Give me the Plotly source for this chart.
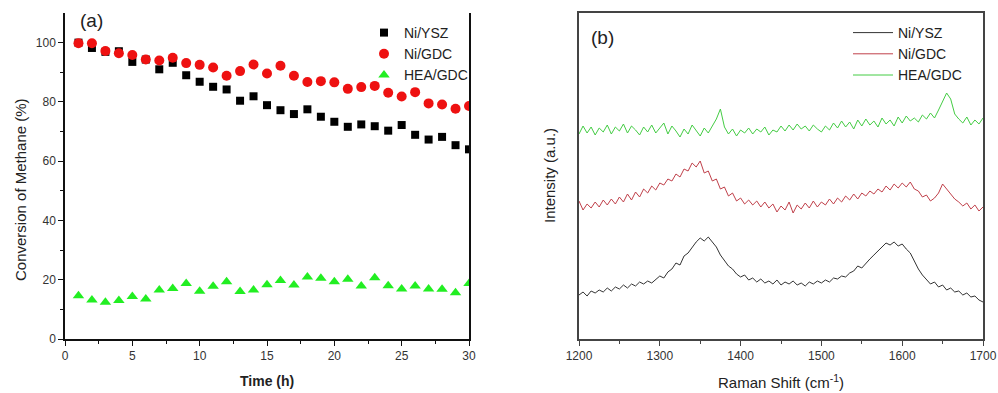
import plotly.graph_objects as go

# ---------------- Panel (a) data ----------------
time_h = list(range(1, 31))
ni_ysz_conv = [100, 98.2, 96.9, 97.1, 93.5, 94.3, 91.0, 93.2, 89.0, 86.8,
               85.1, 84.2, 80.4, 81.9, 78.9, 77.2, 75.9, 77.5, 75.0, 73.3,
               71.6, 72.4, 71.8, 70.3, 72.2, 68.9, 67.3, 68.2, 65.4, 64.0]
ni_gdc_conv = [99.8, 99.8, 97.2, 96.4, 95.8, 94.3, 94.0, 94.9, 93.1, 92.5,
               91.6, 88.8, 90.4, 92.6, 89.6, 92.2, 88.8, 86.7, 87.0, 86.6,
               84.4, 85.0, 85.4, 83.1, 81.8, 83.3, 79.5, 79.1, 77.7, 78.6]
hea_gdc_conv = [14.6, 13.2, 12.4, 13.0, 14.3, 13.5, 16.5, 17.0, 18.7, 16.1,
                17.8, 19.3, 16.0, 16.5, 18.3, 19.7, 18.2, 20.9, 20.5, 19.3,
                20.2, 17.9, 20.7, 18.0, 16.9, 17.9, 16.9, 16.8, 15.6, 18.7]

# ---------------- Panel (b) data ----------------
raman_shift = list(range(1200, 1701, 5))
ni_ysz_int = [44, 47, 43, 48, 46, 49, 47, 51, 48, 52, 50, 54, 51, 55, 53, 57, 55, 58, 56, 60,
              63, 61, 67, 70, 76, 74, 83, 86, 92, 97, 101, 98, 102, 97, 92, 84, 78, 73, 70, 65,
              62, 64, 59, 61, 57, 60, 56, 58, 55, 59, 54, 57, 55, 58, 54, 56, 53, 57, 55, 58,
              56, 59, 57, 61, 60, 63, 62, 66, 68, 73, 71, 76, 80, 84, 88, 92, 96, 94, 97, 93,
              95, 90, 86, 78, 70, 64, 59, 55, 57, 52, 54, 49, 51, 47, 48, 44, 46, 42, 43, 39, 37]
ni_gdc_int = [138, 129, 135, 131, 137, 132, 139, 134, 140, 135, 142, 137, 145, 139, 147, 142, 150, 146, 153, 149,
              156, 154, 160, 158, 165, 162, 170, 168, 176, 172, 178, 166, 168, 158, 160, 150, 152, 143, 146, 138,
              141, 135, 139, 134, 138, 132, 137, 131, 135, 127, 133, 129, 137, 126, 134, 130, 136, 131, 138, 132,
              137, 134, 140, 135, 141, 137, 143, 139, 145, 140, 146, 143, 148, 145, 150, 147, 153, 149, 155, 151,
              156, 152, 157, 150, 148, 142, 144, 138, 141, 146, 155, 150, 144, 140, 137, 133, 136, 130, 134, 128, 132]
hea_gdc_int = [205, 213, 206, 212, 204, 211, 207, 214, 205, 212, 208, 215, 206, 213, 209, 204, 212, 207, 214, 206,
               211, 216, 205, 213, 208, 202, 210, 205, 214, 209, 203, 211, 206, 213, 220, 230, 212, 205, 210, 203,
               209, 206, 211, 205, 210, 207, 212, 204, 209, 207, 213, 208, 214, 209, 215, 210, 213, 208, 214, 210,
               207, 213, 209, 216, 211, 218, 212, 217, 210, 219, 213, 220, 214, 218, 212, 221, 215, 219, 213, 222,
               216, 223, 218, 221, 217, 224, 220, 226, 221, 229, 238, 246, 240, 225, 220, 216, 222, 214, 219, 215, 221]

FONT = "Liberation Sans, Arial, sans-serif"

fig = go.Figure()

fig.add_trace(go.Scatter(x=time_h, y=ni_ysz_conv, mode="markers", name="Ni/YSZ",
                         marker=dict(symbol="square", size=8, color="#000000"),
                         xaxis="x", yaxis="y", legend="legend"))
fig.add_trace(go.Scatter(x=time_h, y=ni_gdc_conv, mode="markers", name="Ni/GDC",
                         marker=dict(symbol="circle", size=10, color="#ee1111"),
                         xaxis="x", yaxis="y", legend="legend"))
fig.add_trace(go.Scatter(x=time_h, y=hea_gdc_conv, mode="markers", name="HEA/GDC",
                         marker=dict(symbol="triangle-up", size=10, color="#22ee22"),
                         xaxis="x", yaxis="y", legend="legend"))

fig.add_trace(go.Scatter(x=raman_shift, y=ni_ysz_int, mode="lines", name="Ni/YSZ",
                         line=dict(color="#333333", width=1),
                         xaxis="x2", yaxis="y2", legend="legend2"))
fig.add_trace(go.Scatter(x=raman_shift, y=ni_gdc_int, mode="lines", name="Ni/GDC",
                         line=dict(color="#c0404a", width=1),
                         xaxis="x2", yaxis="y2", legend="legend2"))
fig.add_trace(go.Scatter(x=raman_shift, y=hea_gdc_int, mode="lines", name="HEA/GDC",
                         line=dict(color="#44cc44", width=1),
                         xaxis="x2", yaxis="y2", legend="legend2"))

ydom = [1 - 339 / 393, 1 - 13 / 393]
tickfont = dict(family=FONT, size=12, color="#333333")

fig.update_layout(
    width=998, height=393,
    margin=dict(l=0, r=0, t=0, b=0, pad=0, autoexpand=False),
    paper_bgcolor="white", plot_bgcolor="white",
    font=dict(family=FONT, color="#222222"),
    xaxis=dict(domain=[65 / 998, 469 / 998], range=[0, 30], tickvals=[0, 5, 10, 15, 20, 25, 30],
               ticks="outside", ticklen=5, tickwidth=1.2, tickcolor="#111", automargin=False,
               minor=dict(tickvals=[2.5, 7.5, 12.5, 17.5, 22.5, 27.5], ticks="outside", ticklen=3,
                          tickcolor="#111"),
               showline=True, linecolor="#111", linewidth=1.5, mirror=False,
               showgrid=False, zeroline=False, tickfont=tickfont),
    yaxis=dict(domain=ydom, range=[0, 110], tickvals=[0, 20, 40, 60, 80, 100],
               ticks="outside", ticklen=5, tickwidth=1.2, tickcolor="#111", automargin=False,
               minor=dict(tickvals=[10, 30, 50, 70, 90], ticks="outside", ticklen=3, tickcolor="#111"),
               showline=True, linecolor="#111", linewidth=1.5, mirror=True,
               showgrid=False, zeroline=False, tickfont=tickfont),
    xaxis2=dict(domain=[579 / 998, 983 / 998], range=[1200, 1700],
                tickvals=[1200, 1300, 1400, 1500, 1600, 1700], automargin=False,
                ticks="outside", ticklen=5, tickwidth=1.2, tickcolor="#444",
                minor=dict(tickvals=[1250, 1350, 1450, 1550, 1650], ticks="outside", ticklen=3,
                           tickcolor="#444"),
                showline=True, linecolor="#444", linewidth=1.5, mirror=True,
                showgrid=False, zeroline=False, tickfont=tickfont, anchor="y2"),
    yaxis2=dict(domain=ydom, range=[0, 326], showticklabels=False, ticks="", automargin=False,
                showline=True, linecolor="#444", linewidth=1.5, mirror=True,
                showgrid=False, zeroline=False, anchor="x2"),
    legend=dict(x=364 / 998, y=1 - 17 / 393, xanchor="left", yanchor="top",
                bgcolor="rgba(0,0,0,0)", font=dict(family=FONT, size=14, color="#222"),
                tracegroupgap=0, itemwidth=30),
    legend2=dict(x=848 / 998, y=1 - 17 / 393, xanchor="left", yanchor="top",
                 bgcolor="rgba(0,0,0,0)", font=dict(family=FONT, size=14, color="#222"),
                 tracegroupgap=0, itemwidth=40),
    showlegend=True,
    annotations=[
        dict(text="(a)", x=78 / 998, y=1 - 21 / 393, xref="paper", yref="paper",
             xanchor="left", yanchor="middle", showarrow=False,
             font=dict(family=FONT, size=19, color="#222")),
        dict(text="(b)", x=589 / 998, y=1 - 37 / 393, xref="paper", yref="paper",
             xanchor="left", yanchor="middle", showarrow=False,
             font=dict(family=FONT, size=19, color="#222")),
        dict(text="Conversion of Methane (%)", x=20 / 998, y=1 - 190 / 393, xref="paper", yref="paper",
             xanchor="center", yanchor="middle", showarrow=False, textangle=-90,
             font=dict(family=FONT, size=15, color="#222")),
        dict(text="<b>Time (h)</b>", x=267 / 998, y=1 - 381 / 393, xref="paper", yref="paper",
             xanchor="center", yanchor="middle", showarrow=False,
             font=dict(family=FONT, size=14, color="#222")),
        dict(text="Raman Shift (cm<sup>-1</sup>)", x=781 / 998, y=1 - 381 / 393, xref="paper", yref="paper",
             xanchor="center", yanchor="middle", showarrow=False,
             font=dict(family=FONT, size=15, color="#222")),
        dict(text="Intensity (a.u.)", x=549 / 998, y=1 - 176 / 393, xref="paper", yref="paper",
             xanchor="center", yanchor="middle", showarrow=False, textangle=-90,
             font=dict(family=FONT, size=15, color="#222")),
    ],
)

fig.write_html("out.html", config={"displayModeBar": False},
               post_script="document.body.style.margin='0';document.body.style.overflow='hidden';")
